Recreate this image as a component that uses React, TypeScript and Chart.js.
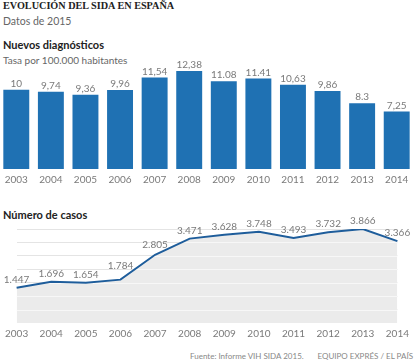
import React, { useEffect, useRef } from "react";
import { Chart, registerables } from "chart.js";

Chart.register(...registerables);

const years = ["2003", "2004", "2005", "2006", "2007", "2008", "2009", "2010", "2011", "2012", "2013", "2014"];
const rateValues = [10, 9.74, 9.36, 9.96, 11.54, 12.38, 11.08, 11.41, 10.63, 9.86, 8.3, 7.25];
const rateLabels = ["10", "9,74", "9,36", "9,96", "11,54", "12,38", "11.08", "11.41", "10,63", "9,86", "8.3", "7,25"];
const rateMax = 13;
const caseValues = [1447, 1696, 1654, 1784, 2805, 3471, 3628, 3748, 3493, 3732, 3866, 3366];
const caseMax = 3866;
const caseGridDivisions = 7;

const SANS = "Lato, 'Noto Sans', sans-serif";
const BAR_COLOR = "#1f71b3";
const LINE_COLOR = "#1e5d9b";

const fmtThousands = (v: number) => String(v).replace(/\B(?=(\d{3})+(?!\d))/g, ".");

const barLabelPlugin = {
  id: "barLabels",
  afterDatasetsDraw(chart: any) {
    const ctx = chart.ctx;
    const meta = chart.getDatasetMeta(0);
    ctx.save();
    ctx.font = `10px ${SANS}`;
    ctx.fillStyle = "#7a7a7a";
    ctx.textAlign = "center";
    ctx.textBaseline = "alphabetic";
    meta.data.forEach((el: any, i: number) => {
      ctx.fillText(rateLabels[i], el.x, el.y - 3);
    });
    ctx.restore();
  },
};

const lineLabelPlugin = {
  id: "lineLabels",
  afterDatasetsDraw(chart: any) {
    const ctx = chart.ctx;
    const pts = chart.getDatasetMeta(0).data;
    const W = chart.width;
    ctx.save();
    ctx.font = `10px ${SANS}`;
    ctx.fillStyle = "#7a7a7a";
    ctx.textAlign = "center";
    ctx.textBaseline = "alphabetic";
    pts.forEach((el: any, i: number) => {
      const txt = fmtThousands(caseValues[i]);
      const w = ctx.measureText(txt).width;
      const x = Math.min(Math.max(el.x, w / 2 + 1), W - 1 - w / 2);
      let y = el.y - 5;
      const next = pts[i + 1];
      if (next) {
        // keep the label clear of a steeply rising next segment
        const right = x + w / 2;
        const lineY = el.y + ((next.y - el.y) * (right - el.x)) / (next.x - el.x);
        y = Math.min(y, lineY - 1);
      }
      ctx.fillText(txt, x, y);
    });
    ctx.restore();
  },
};

const fillGridPlugin = {
  id: "fillGrid",
  beforeDatasetDraw(chart: any, args: any) {
    if (args.index !== 0) return;
    const { ctx, chartArea, scales } = chart;
    const pts = chart.getDatasetMeta(0).data;
    ctx.save();
    ctx.beginPath();
    ctx.moveTo(pts[0].x, chartArea.bottom);
    pts.forEach((p: any) => ctx.lineTo(p.x, p.y));
    ctx.lineTo(pts[pts.length - 1].x, chartArea.bottom);
    ctx.closePath();
    ctx.clip();
    ctx.strokeStyle = "#f7f7f7";
    ctx.lineWidth = 1;
    scales.y.ticks.forEach((t: any) => {
      if (t.value === 0) return;
      const y = Math.round(scales.y.getPixelForValue(t.value)) + 0.5;
      ctx.beginPath();
      ctx.moveTo(chartArea.left, y);
      ctx.lineTo(chartArea.right, y);
      ctx.stroke();
    });
    ctx.restore();
  },
};

function BarChart() {
  const ref = useRef<HTMLCanvasElement>(null);
  useEffect(() => {
    const chart = new Chart(ref.current!, {
      type: "bar",
      data: {
        labels: years,
        datasets: [
          {
            data: rateValues,
            backgroundColor: BAR_COLOR,
            borderWidth: 0,
            barPercentage: 0.75,
            categoryPercentage: 1,
          },
        ],
      },
      options: {
        responsive: false,
        animation: false,
        devicePixelRatio: 1,
        layout: { padding: { top: 6, left: 0, right: 0, bottom: 0 } },
        plugins: { legend: { display: false }, tooltip: { enabled: false } },
        scales: {
          x: {
            grid: { display: false, drawTicks: false },
            border: { display: false },
            ticks: { color: "#7a7a7a", font: { family: SANS, size: 10 }, padding: 5, maxRotation: 0, autoSkip: false },
          },
          y: { display: false, min: 0, max: rateMax },
        },
      },
      plugins: [barLabelPlugin],
    });
    return () => chart.destroy();
  }, []);
  return (
    <canvas
      ref={ref}
      width={415}
      height={131}
      style={{ position: "absolute", left: -1, top: 60, width: 415, height: 131 }}
    />
  );
}

function LineChart() {
  const ref = useRef<HTMLCanvasElement>(null);
  useEffect(() => {
    const chart = new Chart(ref.current!, {
      type: "line",
      data: {
        labels: years,
        datasets: [
          {
            data: caseValues,
            borderColor: LINE_COLOR,
            borderWidth: 2,
            fill: false,
            pointRadius: 0,
            tension: 0,
          },
          {
            data: caseValues,
            borderWidth: 0,
            backgroundColor: "#ebebeb",
            fill: "origin",
            pointRadius: 0,
            tension: 0,
          },
        ],
      },
      options: {
        responsive: false,
        animation: false,
        devicePixelRatio: 1,
        layout: { padding: { top: 24, left: 12, right: 11, bottom: 0 } },
        plugins: { legend: { display: false }, tooltip: { enabled: false } },
        scales: {
          x: {
            offset: false,
            grid: { display: false, drawTicks: false },
            border: { display: false },
            ticks: { color: "#7a7a7a", font: { family: SANS, size: 10 }, padding: 5, maxRotation: 0, autoSkip: false },
          },
          y: {
            min: 0,
            max: caseMax,
            border: { display: false },
            ticks: { display: false },
            afterBuildTicks: (scale: any) => {
              scale.ticks = Array.from({ length: caseGridDivisions + 1 }, (_, i) => ({
                value: (i * caseMax) / caseGridDivisions,
              }));
            },
            grid: {
              drawTicks: false,
              color: (c: any) => (c.tick && c.tick.value === 0 ? "rgba(0,0,0,0)" : "#e4e4e4"),
              lineWidth: 1,
            },
          },
        },
      },
      plugins: [fillGridPlugin, lineLabelPlugin],
    });
    return () => chart.destroy();
  }, []);
  return (
    <canvas
      ref={ref}
      width={414}
      height={140}
      style={{ position: "absolute", left: 0, top: 205, width: 414, height: 140 }}
    />
  );
}

const txt = (top: number, left: number, size: number, extra: React.CSSProperties = {}): React.CSSProperties => ({
  position: "absolute",
  top,
  left,
  fontSize: size,
  lineHeight: `${size}px`,
  fontFamily: SANS,
  whiteSpace: "nowrap",
  margin: 0,
  ...extra,
});

export default function App() {
  return (
    <div style={{ position: "absolute", left: 0, top: 0, width: 414, height: 364, background: "#fff", overflow: "hidden" }}>
      <div style={txt(0.7, 3, 10.2, { fontFamily: "'Liberation Serif', serif", fontWeight: 700, color: "#222" })}>
        EVOLUCIÓN DEL SIDA EN ESPAÑA
      </div>
      <div style={txt(15.7, 3, 10.5, { color: "#666" })}>Datos de 2015</div>
      <div style={txt(38.9, 3, 11, { fontWeight: 700, color: "#222" })}>Nuevos diagnósticos</div>
      <div style={txt(55.1, 3, 10, { color: "#666" })}>Tasa por 100.000 habitantes</div>
      <BarChart />
      <div style={txt(209.2, 3, 11, { fontWeight: 700, color: "#222" })}>Número de casos</div>
      <LineChart />
      <div style={txt(351.6, 190, 8, { color: "#888" })}>Fuente: Informe VIH SIDA 2015.</div>
      <div style={txt(351.6, 0, 8, { color: "#888", left: "auto", right: 1 })}>EQUIPO EXPRÉS / EL PAÍS</div>
    </div>
  );
}
